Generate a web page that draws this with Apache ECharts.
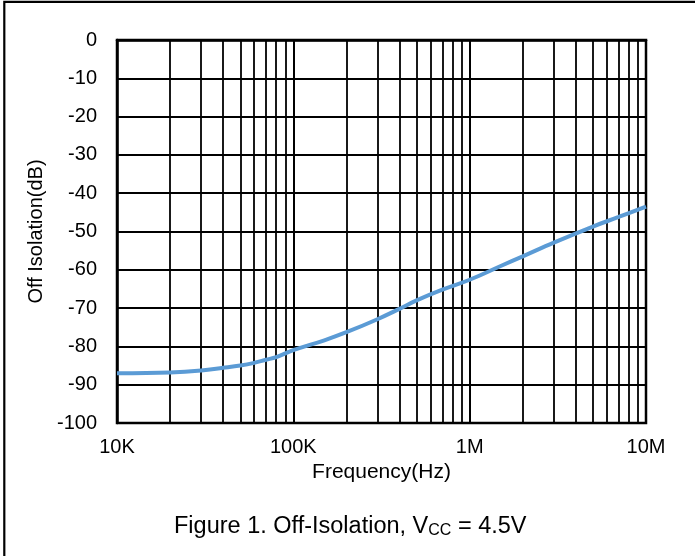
<!DOCTYPE html>
<html>
<head>
<meta charset="utf-8">
<script src="https://cdn.jsdelivr.net/npm/echarts@6/dist/echarts.min.js"></script>
<style>
html,body{margin:0;padding:0;background:#fff;}
#c{width:695px;height:556px;}
</style>
</head>
<body>
<div id="c"></div>
<script>
var frequencies = [10000, 20000, 30000, 40000, 50000, 60000, 70000, 80000, 100000, 150000, 200000, 300000, 400000, 500000, 700000, 1000000, 1500000, 2000000, 3000000, 5000000, 7000000, 10000000];
var isolationDb = [-87.0, -86.8, -86.3, -85.6, -85.0, -84.3, -83.5, -82.8, -81.0, -78.4, -76.3, -72.9, -70.2, -68.0, -65.2, -62.6, -59.0, -56.5, -52.9, -48.7, -46.2, -43.5];
var majorTickValues = [10000, 100000, 1000000, 10000000];
var majorTickLabels = ['10K', '100K', '1M', '10M'];
var minorGridValues = [20000,30000,40000,50000,60000,70000,80000,90000,
  200000,300000,400000,500000,600000,700000,800000,900000,
  2000000,3000000,4000000,5000000,6000000,7000000,8000000,9000000];
var xAxisName = 'Frequency(Hz)';
var yAxisName = 'Off Isolation(dB)';

var FONT = '"Liberation Sans", Arial, sans-serif';
var chart = echarts.init(document.getElementById('c'), null, {renderer: 'canvas'});

var seriesData = frequencies.map(function (f, i) { return [f, isolationDb[i]]; });

chart.setOption({
  animation: false,
  backgroundColor: '#fff',
  grid: {left: 117, right: 49, top: 40, bottom: 133, show: true, borderColor: '#000', borderWidth: 2.5, backgroundColor: 'transparent'},
  xAxis: {
    type: 'log',
    logBase: 10,
    min: 10000,
    max: 10000000,
    splitNumber: 3,
    name: xAxisName,
    nameLocation: 'middle',
    nameGap: 33,
    nameTextStyle: {fontFamily: FONT, fontSize: 21, color: '#000'},
    axisLine: {show: true, lineStyle: {color: '#000', width: 2.5}},
    axisTick: {show: false},
    axisLabel: {
      margin: 14,
      fontFamily: FONT, fontSize: 20, color: '#000',
      formatter: function (v) {
        for (var i = 0; i < majorTickValues.length; i++) {
          if (Math.abs(v - majorTickValues[i]) / majorTickValues[i] < 1e-6) return majorTickLabels[i];
        }
        return '';
      }
    },
    splitLine: {show: true, lineStyle: {color: '#000', width: 2}},
    minorTick: {show: false},
    minorSplitLine: {show: false}
  },
  yAxis: {
    type: 'value',
    min: -100,
    max: 0,
    interval: 10,
    name: yAxisName,
    nameLocation: 'middle',
    nameRotate: 90,
    nameGap: 66,
    nameTextStyle: {fontFamily: FONT, fontSize: 20, color: '#000'},
    axisLine: {show: true, lineStyle: {color: '#000', width: 2.5}},
    axisTick: {show: false},
    axisLabel: {margin: 20, fontFamily: FONT, fontSize: 20, color: '#000'},
    splitLine: {show: true, lineStyle: {color: '#000', width: 1.8}}
  },
  series: [{
    type: 'line',
    data: seriesData,
    smooth: 0.4,
    showSymbol: false,
    symbol: 'none',
    z: 5,
    lineStyle: {color: '#5B9BD5', width: 4},
    markLine: {
      silent: true,
      z: 1,
      symbol: ['none', 'none'],
      label: {show: false},
      animation: false,
      lineStyle: {color: '#000', width: 1.8, type: 'solid'},
      emphasis: {disabled: true},
      data: minorGridValues.map(function (v) { return {xAxis: v}; })
    }
  }],
  graphic: [
    {
      type: 'rect',
      silent: true,
      shape: {x: 4.3, y: 1.8, width: 720, height: 620},
      style: {fill: 'none', stroke: '#000', lineWidth: 2.2}
    },
    {
      type: 'text',
      left: 174,
      top: 515,
      style: {
        text: '{a|Figure 1. Off-Isolation, V}{b|CC}{a| = 4.5V}',
        rich: {
          a: {fontFamily: FONT, fontSize: 23.5, color: '#000', lineHeight: 28, verticalAlign: 'bottom'},
          b: {fontFamily: FONT, fontSize: 16, color: '#000', lineHeight: 20, verticalAlign: 'bottom'}
        }
      }
    }
  ]
});
</script>
</body>
</html>
